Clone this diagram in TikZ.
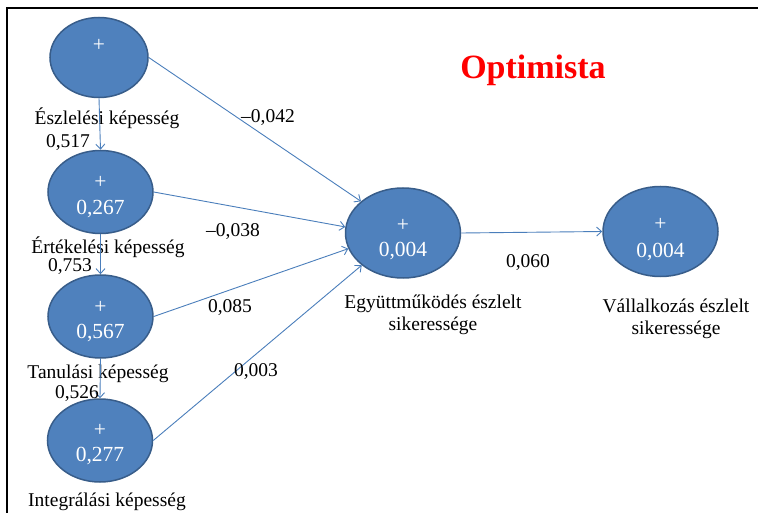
\documentclass[tikz,border=0pt]{standalone}
\usepackage{fontspec}
\setmainfont{Liberation Serif}
\usetikzlibrary{arrows.meta,shapes.geometric,positioning}
\definecolor{lvfill}{HTML}{4F81BD}
\definecolor{lvdraw}{HTML}{385D8A}
\definecolor{pathblue}{HTML}{4A7EBB}
\tikzset{
    %Define standard arrow tip
    >={Straight Barb[length=5pt,width=9pt]},
    %Define style for latent variables
    latent/.style={
           ellipse,
           draw=lvdraw, line width=1.5pt,
           fill=lvfill,
           inner sep=0pt,
           minimum width=105pt,
           minimum height=83pt},
    endog/.style={
           latent,
           minimum width=115pt,
           minimum height=90pt},
    % values inside the ellipses
    inval/.style={
           text=white,
           inner sep=0pt,
           font=\fontsize{21.5}{24}\selectfont},
    % names of the variables
    lvname/.style={
           inner sep=0pt,
           align=center,
           font=\fontsize{19.5}{22.5}\selectfont},
    % path coefficients
    coef/.style={
           inner sep=0pt,
           font=\fontsize{19.5}{22}\selectfont},
    % Define arrow style
    pil/.style={
           draw=pathblue,
           ->,
           line width=0.9pt}
}
\begin{document}
\begin{tikzpicture}[x=1pt,y=-1pt]
\useasboundingbox (0,0) rectangle (758,513);
\draw[line width=1.5pt] (758,8) -- (7,8) -- (7,513);

 %latent variables
\node[latent, minimum width=98pt, minimum height=80pt] (1) at (99,57.5) {};
\node[latent] (2) at (100.5,192) {};
\node[latent] (3) at (100.5,316.5) {};
\node[latent] (4) at (100,440.5) {};
\node[endog] (5) at (403,233) {};
\node[endog] (6) at (660.5,231.5) {};

 %values
\node[inval] (p1) at (99,45) {+};
\node[inval] (p2) at (100.5,182) {+};
\node[inval] (v2) at (100.5,209) {0,267};
\node[inval] (p3) at (100.5,307) {+};
\node[inval] (v3) at (100.5,333) {0,567};
\node[inval] (p4) at (100,430) {+};
\node[inval] (v4) at (100,456) {0,277};
\node[inval] (p5) at (403,225) {+};
\node[inval] (v5) at (403,251) {0,004};
\node[inval] (p6) at (660.5,224) {+};
\node[inval] (v6) at (660.5,252) {0,004};

 %names
\node[lvname] (n1) at (107,118) {Észlelési képesség};
\node[lvname] (n2) at (108,247) {Értékelési képesség};
\node[lvname] (n3) at (98,374) {Tanulási képesség};
\node[lvname] (n4) at (107,502) {Integrálási képesség};
\node[lvname] (n5) at (433,315) {Együttműködés észlelt\\sikeressége};
\node[lvname] (n6) at (676,319) {Vállalkozás észlelt\\sikeressége};

\node[font=\bfseries\fontsize{34}{40}\selectfont, text=red, inner sep=0pt] (title) at (533,70) {Optimista};

 %paths
\path[every edge/.style={pil}]
    (1.south) edge (2.north)
    (2.south) edge (3.north)
    (3.south) edge (4.north)
    (1.east) edge (5.143)
    (2.east) edge (5.174)
    (3.east) edge (5.196)
    (4.east) edge (5.218)
    (5.east) edge (6.west);

 %coefficients
\node[coef] (c12) at (68,143) {0,517};
\node[coef] (c23) at (70,267) {0,753};
\node[coef] (c34) at (77,394) {0,526};
\node[coef] (c15) at (268,118) {–0,042};
\node[coef] (c25) at (233,232) {–0,038};
\node[coef] (c35) at (230,308) {0,085};
\node[coef] (c45) at (256,372) {0,003};
\node[coef] (c56) at (528,263) {0,060};
\end{tikzpicture}
\end{document}
